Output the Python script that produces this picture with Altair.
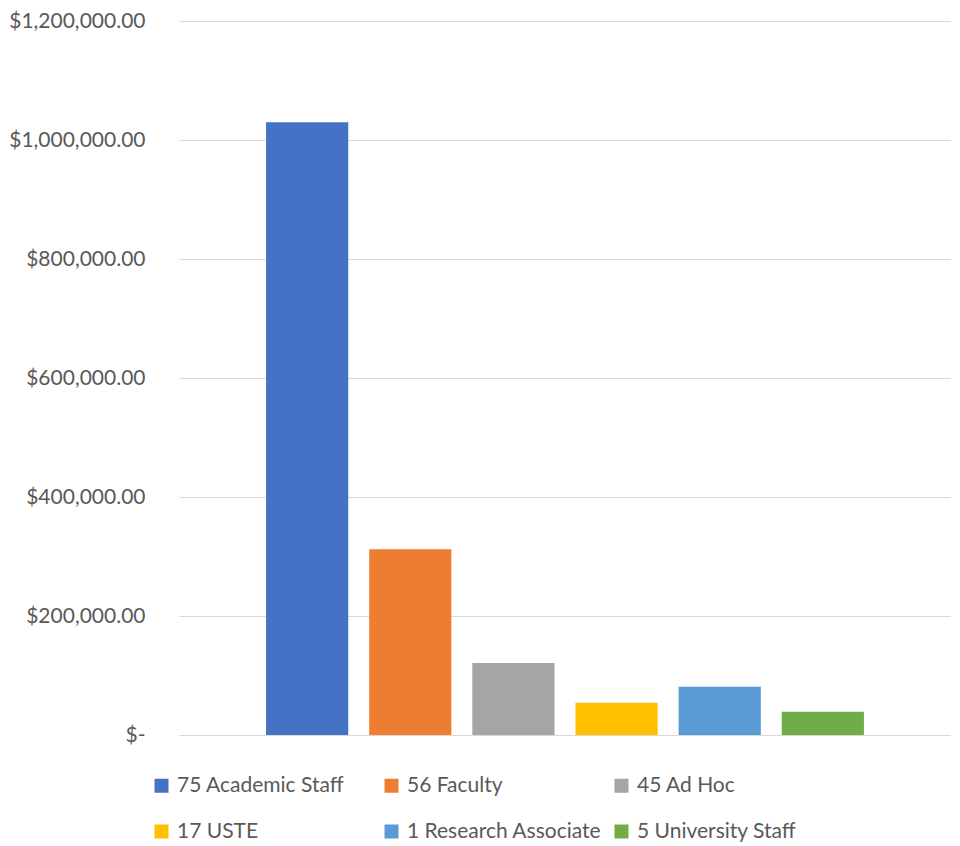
import altair as alt
import pandas as pd

categories = ["75 Academic Staff", "56 Faculty", "45 Ad Hoc", "17 USTE",
              "1 Research Associate", "5 University Staff"]
values = [1030000, 312000, 121000, 54000, 81000, 39000]
colors = ["#4472C4", "#ED7D31", "#A5A5A5", "#FFC000", "#5B9BD5", "#70AD47"]
y_ticks = [0, 200000, 400000, 600000, 800000, 1000000, 1200000]

df = pd.DataFrame({"group": categories, "amount": values})

FONT = "Lato"
TXT = "#595959"

chart = alt.Chart(df).mark_bar().encode(
    x=alt.X("group:N", sort=categories, axis=None,
            scale=alt.Scale(paddingInner=0.203, paddingOuter=0.844)),
    y=alt.Y("amount:Q", title=None,
            scale=alt.Scale(domain=[0, 1200000], nice=False),
            axis=alt.Axis(values=y_ticks, grid=True, gridColor="#D9D9D9",
                          gridWidth=1, domain=False, ticks=False,
                          labelFont=FONT, labelFontSize=21, labelColor=TXT,
                          labelPadding=34,
                          labelExpr="datum.value == 0 ? '$-' : '$' + format(datum.value, ',.2f')")),
    color=alt.Color("group:N", sort=categories,
                    scale=alt.Scale(domain=categories, range=colors),
                    legend=alt.Legend(title=None, orient="none", columns=3,
                                      legendX=-28, legendY=754,
                                      direction="horizontal",
                                      gridAlign="all", columnPadding=9,
                                      rowPadding=24,
                                      symbolType="square", symbolSize=196,
                                      symbolStrokeWidth=0, symbolOffset=0,
                                      labelFont=FONT, labelFontSize=21,
                                      labelColor=TXT, labelLimit=400,
                                      labelOffset=5)),
).properties(
    width=772, height=714,
    padding={"left": 0, "top": 2, "right": 0, "bottom": 0},
).configure_view(stroke=None)

chart.save("out.html", embed_options={"renderer": "svg", "actions": False})
